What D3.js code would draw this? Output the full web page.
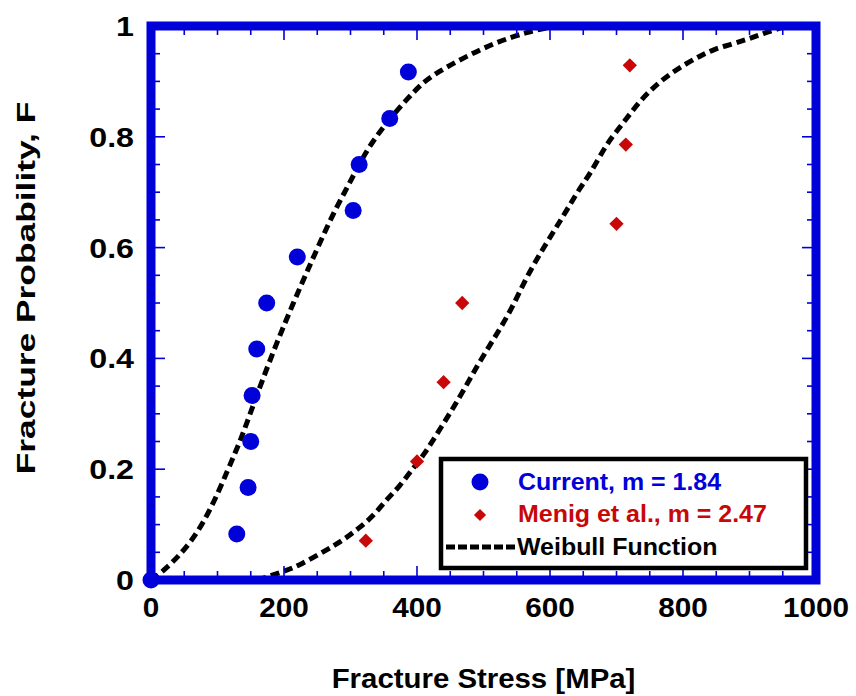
<!DOCTYPE html>
<html><head><meta charset="utf-8">
<script src="https://cdn.jsdelivr.net/npm/d3@7"></script>
<style>body{margin:0;background:#fff} svg{display:block}</style>
</head><body><svg id="c" width="856" height="696"></svg>
<script>
// ---- data ----
const currentStress = [0, 129, 146, 150, 152, 159, 174, 220, 304, 313, 359, 387];
const currentF      = [0, 0.083, 0.167, 0.25, 0.333, 0.417, 0.5, 0.583, 0.667, 0.75, 0.833, 0.917];
const menigStress   = [323, 400, 440, 468, 700, 714, 720];
const menigF        = [0.071, 0.214, 0.357, 0.5, 0.643, 0.786, 0.929];
const weibullCurrentStress = [0, 21, 61, 91, 116, 134, 149, 166, 189, 214, 234, 254, 277, 299, 322, 352, 387, 409, 430, 475, 520, 565, 600];
const weibullCurrentF      = [0, 0.018, 0.067, 0.13, 0.2, 0.25, 0.30, 0.356, 0.428, 0.50, 0.555, 0.609, 0.669, 0.717, 0.772, 0.823, 0.871, 0.898, 0.916, 0.946, 0.971, 0.989, 0.998];
const weibullMenigStress = [160, 199, 224, 264, 289, 312, 334, 354, 374, 394, 409, 437, 465, 490, 515, 542, 565, 592, 620, 645, 660, 685, 703, 720, 738, 758, 780, 803, 826, 846, 873, 896, 916, 936, 955];
const weibullMenigF      = [0, 0.015, 0.027, 0.054, 0.072, 0.093, 0.115, 0.145, 0.169, 0.202, 0.223, 0.277, 0.331, 0.386, 0.434, 0.488, 0.548, 0.603, 0.657, 0.708, 0.732, 0.787, 0.814, 0.841, 0.868, 0.892, 0.913, 0.931, 0.946, 0.958, 0.967, 0.976, 0.984, 0.993, 0.999];
const xTicks = [0, 200, 400, 600, 800, 1000];
const xTickLabels = ["0", "200", "400", "600", "800", "1000"];
const yTicks = [0, 0.2, 0.4, 0.6, 0.8, 1];
const yTickLabels = ["0", "0.2", "0.4", "0.6", "0.8", "1"];
const legendLabels = ["Current, m = 1.84", "Menig et al., m = 2.47", "Weibull Function"];
const xTitle = "Fracture Stress [MPa]";
const yTitle = "Fracture Probability, F";

// ---- layout ----
const L = 151, R = 816, T = 26, B = 580;
const BLUE = "#0000d8", RED = "#c80808";
const FONT = "'Liberation Sans', Arial, Helvetica, sans-serif";
const svg = d3.select("#c");
const x = d3.scaleLinear().domain([0, 1000]).range([L, R]);
const y = d3.scaleLinear().domain([0, 1]).range([B, T]);

function txt(g, s, tx, ty, size, anchor, color, sx, rot) {
  return g.append("text")
    .attr("transform", `translate(${tx},${ty})` + (rot ? ` rotate(${rot})` : "") + ` scale(${sx},1)`)
    .attr("text-anchor", anchor).attr("font-family", FONT).attr("font-weight", "bold")
    .attr("font-size", size).attr("fill", color).text(s);
}

// curves
const line = d3.line().x(d => x(d[0])).y(d => y(d[1])).curve(d3.curveBasis);
[[weibullCurrentStress, weibullCurrentF], [weibullMenigStress, weibullMenigF]].forEach(([xs, fs]) => {
  svg.append("path").datum(xs.map((v, i) => [v, fs[i]]))
    .attr("d", line).attr("fill", "none").attr("stroke", "#000")
    .attr("stroke-width", 5).attr("stroke-dasharray", "9,5");
});

// ticks (inside, all four sides)
const tickG = svg.append("g");
const minorX = d3.range(0, 1001, 50), minorY = d3.range(0, 1.0001, 0.05);
const inner = 4;
minorX.forEach(v => {
  const len = v % 200 === 0 ? 10 : 5;
  tickG.append("line").attr("x1", x(v)).attr("x2", x(v)).attr("y1", B - inner).attr("y2", B - inner - len);
  tickG.append("line").attr("x1", x(v)).attr("x2", x(v)).attr("y1", T + inner).attr("y2", T + inner + len);
});
minorY.forEach(v => {
  const major = Math.abs(v * 5 - Math.round(v * 5)) < 1e-6;
  const len = major ? 10 : 5;
  tickG.append("line").attr("y1", y(v)).attr("y2", y(v)).attr("x1", L + inner).attr("x2", L + inner + len);
  tickG.append("line").attr("y1", y(v)).attr("y2", y(v)).attr("x1", R - inner).attr("x2", R - inner - len);
});
tickG.selectAll("line").attr("stroke", BLUE).attr("stroke-width", 1.6);

// frame
svg.append("rect").attr("x", L).attr("y", T).attr("width", R - L).attr("height", B - T)
  .attr("fill", "none").attr("stroke", BLUE).attr("stroke-width", 9);

// data points
svg.append("g").selectAll("circle").data(currentStress.map((v, i) => [v, currentF[i]]))
  .join("circle").attr("cx", d => x(d[0])).attr("cy", d => y(d[1])).attr("r", 8.5).attr("fill", BLUE);
const diamond = d3.symbol().type(d3.symbolDiamond2).size(130);
svg.append("g").selectAll("path").data(menigStress.map((v, i) => [v, menigF[i]]))
  .join("path").attr("d", diamond).attr("transform", d => `translate(${x(d[0])},${y(d[1])})`).attr("fill", RED);

// tick labels
const tl = svg.append("g");
xTicks.forEach((v, i) => txt(tl, xTickLabels[i], x(v), 617, 27, "middle", "#000", 1.1));
yTicks.forEach((v, i) => txt(tl, yTickLabels[i], 134, y(v) + 10, 28, "end", "#000", 1.15));

// titles
txt(svg, xTitle, (L + R) / 2, 688, 28, "middle", "#000", 1.05);
txt(svg, yTitle, 35, 288, 26, "middle", "#000", 1.36, -90);

// legend
const lg = svg.append("g");
lg.append("rect").attr("x", 441).attr("y", 459).attr("width", 365).attr("height", 109)
  .attr("fill", "#fff").attr("stroke", "#000").attr("stroke-width", 4.5);
lg.append("circle").attr("cx", 480).attr("cy", 482).attr("r", 8.5).attr("fill", BLUE);
lg.append("path").attr("d", d3.symbol().type(d3.symbolDiamond2).size(95)).attr("transform", "translate(480,515)").attr("fill", RED);
lg.append("line").attr("x1", 446).attr("x2", 516).attr("y1", 547).attr("y2", 547)
  .attr("stroke", "#000").attr("stroke-width", 5).attr("stroke-dasharray", "9,3");
txt(lg, legendLabels[0], 518, 490, 24, "start", BLUE, 1.04);
txt(lg, legendLabels[1], 518, 522, 24, "start", RED, 1.04);
txt(lg, legendLabels[2], 517, 555, 24, "start", "#000", 1.04);
</script></body></html>
